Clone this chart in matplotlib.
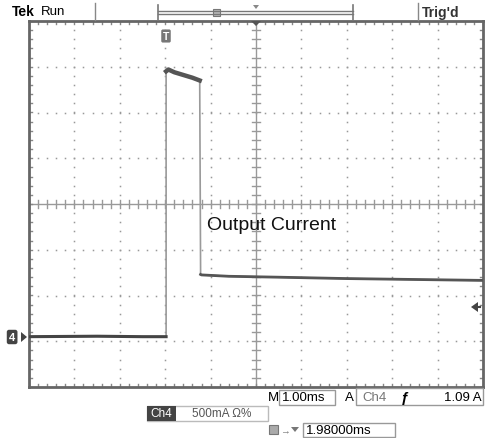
import numpy as np
import matplotlib
matplotlib.use("Agg")
import matplotlib.pyplot as plt
from matplotlib.patches import Rectangle, Polygon

# ---- data ----
time_ms = [-5.0, -3.5, -2.5, -1.98, -1.98, -1.93, -1.80, -1.60, -1.40, -1.24, -1.22, -1.20, -0.60, 0.50, 2.00, 3.50, 5.00]
current_A = [0.0, 0.005, 0.0, 0.0, 2.90, 2.92, 2.89, 2.86, 2.83, 2.80, 0.68, 0.675, 0.66, 0.65, 0.635, 0.625, 0.615]
amps_per_div = 0.5
ms_per_div = 1.0
ground_div = -2.9
trace_label = "Output Current"
top_left = ["Tek", "Run"]
top_right = "Trig'd"
timebase = "1.00ms"
trig_channel = "Ch4"
trig_level = "1.09 A"
ch_label = "Ch4"
ch_scale = "500mA \u03a9%"
h_delay = "1.98000ms"

W, H = 494, 439
fig = plt.figure(figsize=(W / 100, H / 100), dpi=100)
plt.rcParams['font.family'] = ['Liberation Sans', 'DejaVu Sans']

L, R, T, B = 29, 483, 22, 388
ax = fig.add_axes([L / W, 1 - B / H, (R - L) / W, (B - T) / H])
ax.set_xlim(-5, 5)
ax.set_ylim(-4, 4)
ax.set_xticks([]); ax.set_yticks([])
for s in ax.spines.values():
    s.set_color('#666666'); s.set_linewidth(2)

def fx(x):
    return x / W
def fy(y):
    return 1 - y / H

# grid dots
sub = np.arange(-4, 4.01, 0.2)
subx = np.arange(-5, 5.01, 0.2)
for gx in range(-4, 5):
    if gx == 0:
        continue
    ax.plot([gx] * len(sub), sub, ls='none', marker='s', ms=1.1, color='#999999', mew=0)
for gy in range(-3, 4):
    if gy == 0:
        continue
    ax.plot(subx, [gy] * len(subx), ls='none', marker='s', ms=1.1, color='#999999', mew=0)

# center crosshair with ticks
ax.axvline(0, color='#999999', lw=1)
ax.axhline(0, color='#999999', lw=1)
for v in sub:
    ax.plot([-0.08, 0.08], [v, v], color='#999999', lw=1)
for v in subx:
    ax.plot([v, v], [-0.08, 0.08], color='#999999', lw=1)
# border ticks
for v in subx:
    ax.plot([v, v], [4, 3.93], color='#888888', lw=1)
    ax.plot([v, v], [-4, -3.93], color='#888888', lw=1)
for v in sub:
    ax.plot([-5, -4.93], [v, v], color='#888888', lw=1)
    ax.plot([5, 4.93], [v, v], color='#888888', lw=1)

# trace
t = np.array(time_ms) / ms_per_div
y = np.array(current_A) / amps_per_div + ground_div
ax.plot(t, y, color='#9a9a9a', lw=1.2, zorder=3)
n = len(t)
idx = np.arange(n)
flat_low = idx <= 3
pulse = (idx >= 4) & (idx <= 9)
tail = idx >= 10
ax.plot(t[flat_low], y[flat_low], color='#444444', lw=2.2, zorder=4)
ax.plot(t[pulse], y[pulse], color='#555555', lw=3.2, zorder=4)
ax.plot(t[tail], y[tail], color='#555555', lw=2.0, zorder=4)

ax.text(-1.08, -0.45, trace_label, fontsize=14, color='#111111', va='center', ha='left')

# ---- screen annotations ----
fig.text(fx(12), fy(12), top_left[0], fontsize=10, fontweight='bold', va='center', ha='left')
fig.text(fx(41), fy(12), top_left[1], fontsize=9.5, va='center', ha='left')
fig.add_artist(plt.Line2D([fx(95), fx(95)], [fy(4), fy(21)], color='#888888', lw=1))
# record bracket
fig.add_artist(plt.Line2D([fx(158), fx(353)], [fy(12), fy(12)], color='#777777', lw=1))
fig.add_artist(plt.Line2D([fx(158), fx(353)], [fy(15), fy(15)], color='#777777', lw=1))
fig.add_artist(plt.Line2D([fx(158), fx(158)], [fy(6), fy(21)], color='#777777', lw=1.2))
fig.add_artist(plt.Line2D([fx(353), fx(353)], [fy(6), fy(21)], color='#777777', lw=1.2))
fig.add_artist(Rectangle((fx(213), fy(17)), 7 / W, 7 / H, transform=fig.transFigure,
                         fc='#bbbbbb', ec='#777777', lw=0.8))
fig.add_artist(Polygon([[fx(253), fy(6)], [fx(259), fy(6)], [fx(256), fy(10)]],
                       closed=True, transform=fig.transFigure, fc='#888888', ec='none'))
# trigger markers
fig.add_artist(Polygon([[fx(251), fy(22)], [fx(261), fy(22)], [fx(256), fy(27)]],
                       closed=True, transform=fig.transFigure, fc='#555555', ec='none'))
fig.text(fx(166), fy(37), "T", fontsize=7.5, fontweight='bold', color='white', ha='center', va='center',
         bbox=dict(boxstyle='round,pad=0.15', fc='#777777', ec='none'))
fig.add_artist(plt.Line2D([fx(418), fx(418)], [fy(4), fy(21)], color='#888888', lw=1))
fig.text(fx(422), fy(13), top_right, fontsize=10, fontweight='bold', color='#333333', va='center', ha='left')

# ground marker
fig.text(fx(9), fy(338), "4", fontsize=8, fontweight='bold', color='white', ha='left', va='center',
         bbox=dict(boxstyle='round,pad=0.2', fc='#444444', ec='none'))
fig.add_artist(Polygon([[fx(21), fy(333)], [fx(27), fy(338)], [fx(21), fy(343)]],
                       closed=True, transform=fig.transFigure, fc='#444444', ec='none'))
# trigger level marker
fig.add_artist(Polygon([[fx(471), fy(308)], [fx(478), fy(303)], [fx(478), fy(313)]],
                       closed=True, transform=fig.transFigure, fc='#444444', ec='none'))
fig.add_artist(plt.Line2D([fx(476), fx(480)], [fy(308), fy(308)], color='#444444', lw=1.5))

# bottom readouts
fs = 9.5
fig.text(fx(268), fy(398), "M", fontsize=fs, va='center', ha='left')
fig.add_artist(Rectangle((fx(279), fy(406)), 56 / W, 15 / H, transform=fig.transFigure,
                         fc='none', ec='#999999', lw=1))
fig.text(fx(282), fy(398), timebase, fontsize=fs, va='center', ha='left')
fig.text(fx(345), fy(398), "A", fontsize=fs, va='center', ha='left')
fig.add_artist(Rectangle((fx(356), fy(406)), 127 / W, 17 / H, transform=fig.transFigure,
                         fc='none', ec='#999999', lw=1))
fig.text(fx(362), fy(398), trig_channel, fontsize=fs, color='#777777', va='center', ha='left')
fig.text(fx(405), fy(398), "\u0192", fontsize=fs + 1, fontweight='bold', va='center', ha='center')
fig.text(fx(482), fy(398), trig_level, fontsize=fs, va='center', ha='right')

fig.add_artist(Rectangle((fx(147), fy(422)), 121 / W, 15 / H, transform=fig.transFigure,
                         fc='none', ec='#bbbbbb', lw=1))
fig.add_artist(Rectangle((fx(147), fy(422)), 29 / W, 15 / H, transform=fig.transFigure,
                         fc='#444444', ec='none'))
fig.text(fx(161), fy(414.5), ch_label, fontsize=8.5, color='white', va='center', ha='center')
fig.text(fx(192), fy(414.5), ch_scale, fontsize=8.5, color='#555555', va='center', ha='left')

fig.add_artist(Rectangle((fx(269), fy(435)), 9 / W, 9 / H, transform=fig.transFigure,
                         fc='#aaaaaa', ec='#777777', lw=0.8))
fig.text(fx(280), fy(431), "\u2192", fontsize=7, color='#777777', va='center', ha='left')
fig.add_artist(Polygon([[fx(291), fy(428)], [fx(299), fy(428)], [fx(295), fy(433)]],
                       closed=True, transform=fig.transFigure, fc='#777777', ec='none'))
fig.add_artist(Rectangle((fx(303), fy(438)), 92 / W, 14 / H, transform=fig.transFigure,
                         fc='none', ec='#999999', lw=1))
fig.text(fx(306), fy(431), h_delay, fontsize=fs, va='center', ha='left')

fig.savefig("out.png", dpi=100, facecolor='white')
